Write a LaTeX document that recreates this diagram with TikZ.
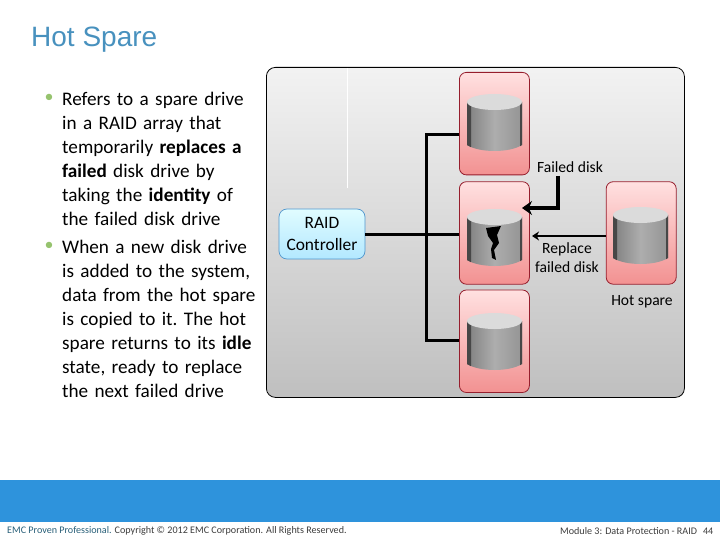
\documentclass[tikz,border=0pt]{standalone}
\usepackage{xcolor}
\usepackage{fontspec}
\setmainfont{Carlito}
\newfontfamily\titlefont{Liberation Sans}
\usepackage{tikz}
\usetikzlibrary{arrows.meta, positioning, calc}
\definecolor{mytitle}{RGB}{72,145,190}
\definecolor{mybullet}{RGB}{150,195,110}
\definecolor{mybar}{RGB}{46,147,220}
\definecolor{myteal}{RGB}{40,95,120}
\definecolor{myfoot}{RGB}{60,60,60}
\definecolor{myborder}{RGB}{150,30,45}
\definecolor{myblue}{RGB}{80,150,205}
\tikzset{
  bodytext/.style={anchor=north west, inner sep=0pt, align=left, text width=215pt,
    font=\fontsize{19.2}{24}\selectfont\frenchspacing},
  bulletmark/.style={anchor=center, inner sep=0pt, text=mybullet, font=\fontsize{18}{18}\selectfont},
  diskbox/.style={rectangle, draw=myborder, top color=red!12, bottom color=red!40!white!95!black,
    minimum width=70pt, minimum height=102.5pt, rounded corners=7pt, line width=0.8pt},
  ctrlbox/.style={rectangle, draw=myblue, top color=blue!10!cyan!12, bottom color=blue!30!cyan!30,
    minimum width=86pt, minimum height=50pt, rounded corners=8pt, line width=0.7pt, align=center,
    font=\fontsize{17.4}{22}\selectfont},
  lbl/.style={inner sep=0pt, align=center, font=\fontsize{15.6}{19}\selectfont},
  foot/.style={inner sep=0pt, anchor=west, font=\fontsize{10.1}{11}\selectfont, text=myfoot},
  busline/.style={line width=3pt, black},
  bigarrow/.style={-{Stealth[length=10pt,width=14pt]}, line width=3.2pt, black},
  smallarrow/.style={-{Stealth[length=7pt,width=9pt]}, line width=2.6pt, black},
  pics/hddisk/.style={code={
    \shade[left color=black!50, right color=black!42, middle color=black!32]
      (-27.5,0) -- (-27.5,43) .. controls (-15,51) and (15,51) .. (27.5,43) -- (27.5,0) -- cycle;
    \fill[black!72] (-27.5,0) -- (-27.5,43) -- (-23.5,45.2) -- (-23.5,0) -- cycle;
    \fill[black!72] (27.5,0) -- (27.5,43) -- (25.5,44.2) -- (25.5,0) -- cycle;
    \fill[black!14] (0,0) ellipse [x radius=27.5, y radius=8];
  }}
}
\begin{document}
\begin{tikzpicture}[x=1pt, y=-1pt]
  \useasboundingbox (0,0) rectangle (720,540);
  \node[anchor=west, inner sep=0pt, text=mytitle, font=\titlefont\fontsize{28}{30}\selectfont] (title) at (31,40) {Hot Spare};

  % left column
  \node[bodytext] (bodyone) at (62,91.5) {Refers to a spare drive\\in a RAID array that\\temporarily \textbf{replaces a}\\\textbf{failed} disk drive by\\taking the \textbf{identity} of\\the failed disk drive};
  \node[bodytext] (bodytwo) at (62,239.5) {When a new disk drive\\is added to the system,\\data from the hot spare\\is copied to it. The hot\\spare returns to its \textbf{idle}\\state, ready to replace\\the next failed drive};
  \node[bulletmark] (bulletone) at (49,98) {•};
  \node[bulletmark] (bullettwo) at (49,246) {•};

  % panel
  \node[rectangle, draw=black, top color=black!5, bottom color=black!25, minimum width=418pt, minimum height=330pt,
    rounded corners=9pt, line width=0.8pt, anchor=north west] (panel) at (266,67) {};
  \coordinate (slittop) at (347.5,68);
  \coordinate (slitbot) at (347.5,188);
  \draw[white, line width=0.8pt] (slittop) -- (slitbot);

  \node[diskbox, anchor=north west] (diskone) at (459,72) {};
  \node[diskbox, below=6pt of diskone] (disktwo) {};
  \node[diskbox, below=5pt of disktwo] (diskthree) {};
  \node[diskbox, right=76pt of disktwo] (spare) {};
  \node[ctrlbox] (ctrl) at (322,234) {RAID\\Controller};

  \pic at (494.5,102) {hddisk};
  \pic at (494.5,217) {hddisk};
  \pic at (494.5,321) {hddisk};
  \pic at (640.5,215) {hddisk};
  \fill[black] (486,228) -- (501,226) -- (497,235) -- (499,243) -- (494,250) -- (496,260) -- (492,258) -- (491,249) -- (493,243) -- (488,236) -- cycle;

  \coordinate (trunktop) at (426,135);
  \coordinate (trunkbot) at (426,340);
  \coordinate (failedtop) at (558,176);
  \draw[busline] (diskone.west |- trunktop) -- (trunktop) -- (trunkbot) -- (diskthree.west |- trunkbot);
  \draw[busline] (ctrl.east) -- (ctrl.east -| disktwo.west);
  \coordinate (failedturn) at (558,208);
  \coordinate (failedend) at (522,208);
  \draw[bigarrow] (failedtop) -- (failedturn) -- (failedend);
  \coordinate (replaceend) at (532,236);
  \draw[smallarrow] (spare.west |- replaceend) -- (replaceend);

  \node[lbl] (failedlbl) at (570,167) {Failed disk};
  \node[lbl] (replacelbl) at (567,258) {Replace\\failed disk};
  \node[lbl] (sparelbl) at (642,302) {Hot spare};

  % footer
  \fill[mybar] (0,480) rectangle (720,522);
  \node[foot] (footleft) at (7,531) {\textcolor{myteal}{EMC Proven Professional.} Copyright © 2012 EMC Corporation. All Rights Reserved.};
  \node[foot] (footright) at (560,531) {Module 3: Data Protection - RAID\hspace{6pt}44};
\end{tikzpicture}
\end{document}
